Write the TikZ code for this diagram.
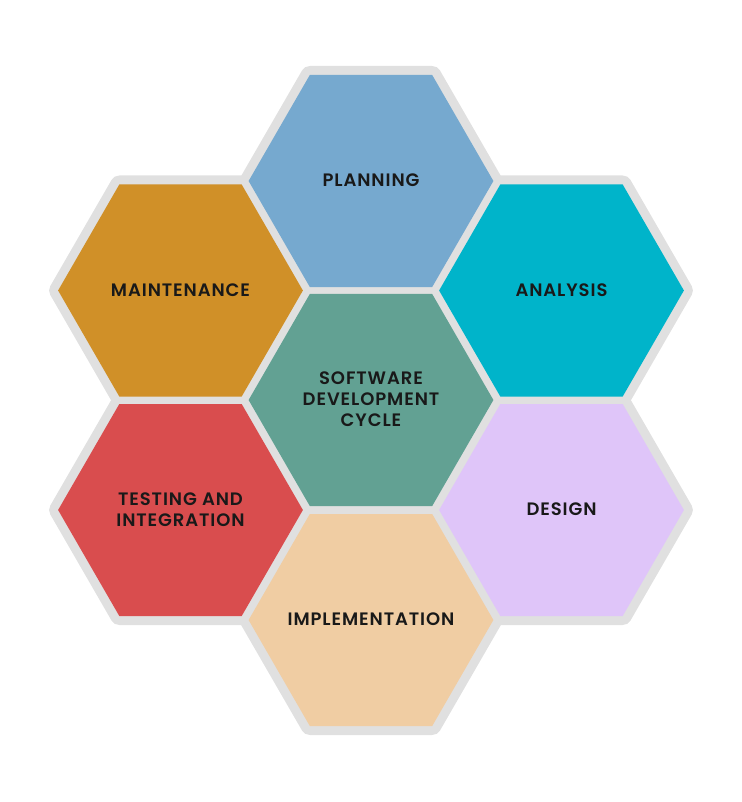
\documentclass[tikz,border=0pt]{standalone}
\usepackage{fontspec}
\setmainfont{Poppins}
\newfontfamily\hexfont[LetterSpace=5]{Poppins SemiBold}
\usetikzlibrary{shapes.geometric,backgrounds}
\definecolor{rim}{HTML}{E0E0E0}
\definecolor{planningc}{HTML}{76A9CF}
\definecolor{analysisc}{HTML}{00B4CA}
\definecolor{designc}{HTML}{DFC5F9}
\definecolor{implc}{HTML}{F0CDA3}
\definecolor{testingc}{HTML}{D94D4E}
\definecolor{maintc}{HTML}{D09028}
\definecolor{cyclec}{HTML}{62A193}
% zero-width label so the text never widens a cell
\newcommand\hexlabel[1]{\makebox[0pt]{\begin{tabular}{@{}c@{}}#1\end{tabular}}}
\tikzset{
  hexcell/.style={regular polygon, regular polygon sides=6,
    minimum size=244.8pt, inner sep=0pt, outer sep=0pt,
    text=black!90, font=\hexfont\fontsize{18}{21}\selectfont}
}
\begin{document}
\begin{tikzpicture}[x=1pt, y=-1pt]
        \useasboundingbox (0,0) rectangle (741,802);
        \node[hexcell, fill=cyclec] (cycle) at (371,400) {};
        \node[hexcell, fill=planningc] (planning) at (371,181) {};
        \node[hexcell, fill=analysisc] (analysis) at (561.5,290.5) {};
        \node[hexcell, fill=designc] (design) at (561.5,510) {};
        \node[hexcell, fill=implc] (impl) at (371,620) {};
        \node[hexcell, fill=testingc] (testing) at (180.5,510) {};
        \node[hexcell, fill=maintc] (maint) at (180.5,290.5) {};
        % labels, a touch below the cell centres
        \foreach \h/\t in {cycle/{SOFTWARE\\DEVELOPMENT\\CYCLE}, planning/PLANNING, analysis/ANALYSIS,
            design/DESIGN, impl/IMPLEMENTATION, testing/{TESTING AND\\INTEGRATION}, maint/MAINTENANCE}
          \node[text=black!90, font=\hexfont\fontsize{18}{21}\selectfont, yshift=-1.5pt] (\h-text) at (\h) {\hexlabel{\t}};
        % grey rims behind the cells
        \begin{scope}[on background layer]
          \foreach \h in {cycle, planning, analysis, design, impl, testing, maint}
            \draw[rim, line width=18pt, line join=round] (\h.corner 1) -- (\h.corner 2) -- (\h.corner 3)
              -- (\h.corner 4) -- (\h.corner 5) -- (\h.corner 6) -- cycle;
        \end{scope}
      \end{tikzpicture}
\end{document}
